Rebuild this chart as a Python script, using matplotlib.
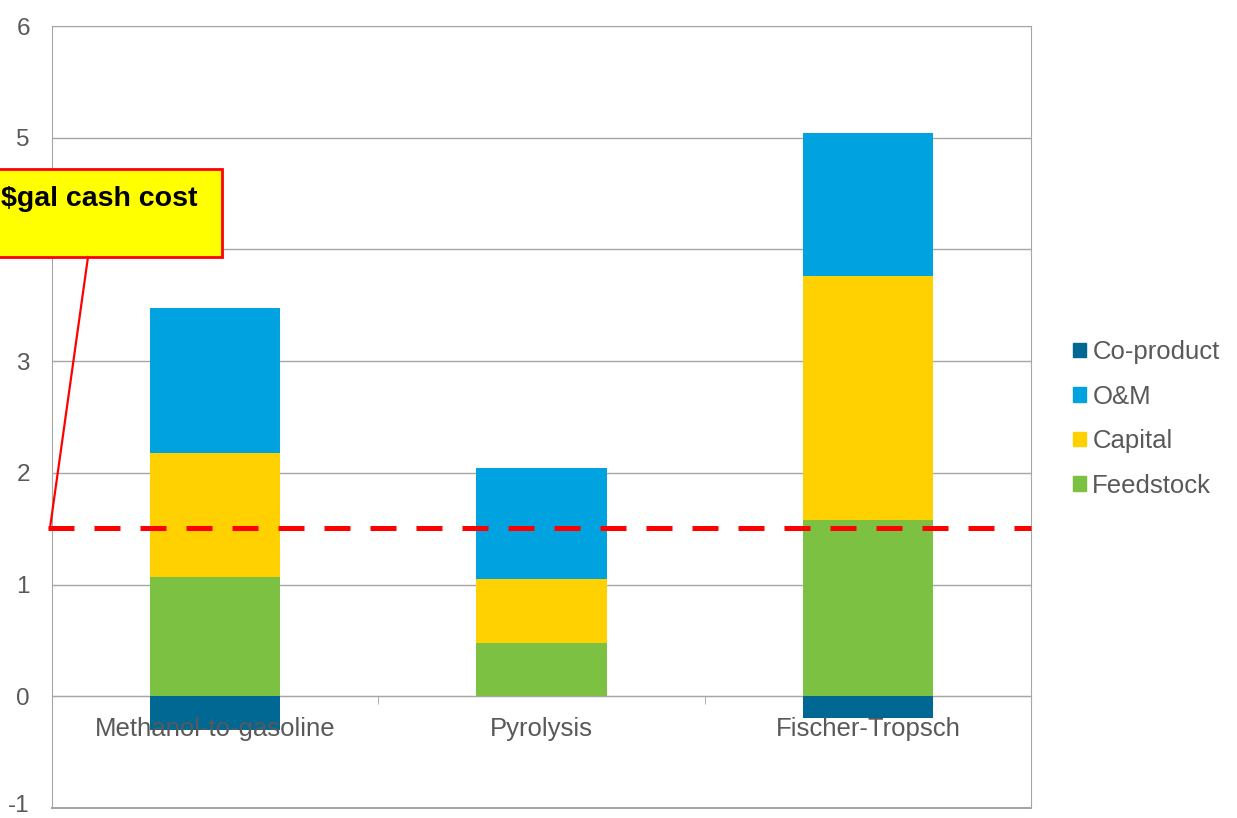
import matplotlib.pyplot as plt
import matplotlib.transforms as mtransforms
from matplotlib.patches import Rectangle, Patch

plt.rcParams['font.family'] = ['Liberation Sans', 'DejaVu Sans']
plt.rcParams['axes.unicode_minus'] = False

categories = ['Methanol-to-gasoline', 'Pyrolysis', 'Fischer-Tropsch']
coproduct = [-0.30, 0.0, -0.19]
feedstock = [1.07, 0.48, 1.58]
capital = [1.11, 0.57, 2.18]
om = [1.30, 0.99, 1.28]
target = 1.51
callout = '$gal cash cost'

colors = {'Co-product': '#006892', 'O&M': '#00A3E0',
          'Capital': '#FFD100', 'Feedstock': '#7CC142'}
grid_c = '#A6A6A6'
text_c = '#595959'

fig = plt.figure(figsize=(12.37, 8.18), dpi=100)
ax = fig.add_axes([52/1237, 10/818, 979/1237, 782/818])

x = list(range(len(categories)))
w = 0.4
ax.bar(x, coproduct, w, color=colors['Co-product'], zorder=3)
ax.bar(x, feedstock, w, color=colors['Feedstock'], zorder=3)
ax.bar(x, capital, w, bottom=feedstock, color=colors['Capital'], zorder=3)
b3 = [f + c for f, c in zip(feedstock, capital)]
ax.bar(x, om, w, bottom=b3, color=colors['O&M'], zorder=3)

ax.set_xlim(-0.5, 2.5)
ax.set_ylim(-1, 6)
ax.set_yticks(range(-1, 7))
ax.grid(axis='y', color=grid_c, lw=1, zorder=0)
for s in ['left', 'right', 'top']:
    ax.spines[s].set_color(grid_c)
ax.spines['bottom'].set_position(('data', 0))
ax.spines['bottom'].set_color(grid_c)
ax.axhline(-1, color=grid_c, lw=1.5, zorder=1, clip_on=False)

ax.set_xticks(x)
ax.set_xticklabels([''] * len(categories))
ax.set_xticks([0.5, 1.5], minor=True)
ax.tick_params(axis='x', which='major', length=0)
ax.tick_params(axis='x', which='minor', length=6, color=grid_c, direction='out')
ax.tick_params(axis='y', length=0, pad=16, labelsize=17.5, labelcolor=text_c)

# keep the lowest tick label inside the canvas
lab = ax.get_yticklabels()[0]
lab.set_transform(lab.get_transform() +
                  mtransforms.ScaledTranslation(0, 4/100, fig.dpi_scale_trans))

# category labels drawn over the bars, as in the source
for xi, name in zip(x, categories):
    ax.annotate(name, (xi, 0), xytext=(0, -23.5), textcoords='offset points',
                ha='center', va='center', fontsize=18.5, color=text_c, zorder=6)

ax.plot([-0.513, 2.5], [target, target], color='#FF0000', lw=3.6,
        dashes=(5.2, 4), solid_capstyle='butt', dash_capstyle='butt',
        zorder=5, clip_on=False)

handles = [Patch(color=colors[k], label=k) for k in colors]
fig.legend(handles=handles, loc='center left', bbox_to_anchor=(1073/1237, 0.488),
           frameon=False, fontsize=18.5, handlelength=0.5, handleheight=0.5,
           handletextpad=0.25, labelspacing=0.8, labelcolor=text_c,
           borderaxespad=0, borderpad=0)

# callout overlay in pixel space
ov = fig.add_axes([0, 0, 1, 1], zorder=10)
ov.set_xlim(0, 1237)
ov.set_ylim(818, 0)
ov.axis('off')
ov.add_patch(Rectangle((-20, 169), 242, 88, facecolor='#FFFF00', edgecolor='#FF0000', lw=2))
ov.text(1, 199, callout, fontsize=20.5, fontweight='bold', va='center', ha='left', color='black')
ov.plot([88, 50], [257, 528], color='#FF0000', lw=1.6)

fig.savefig('out.png', dpi=100)
